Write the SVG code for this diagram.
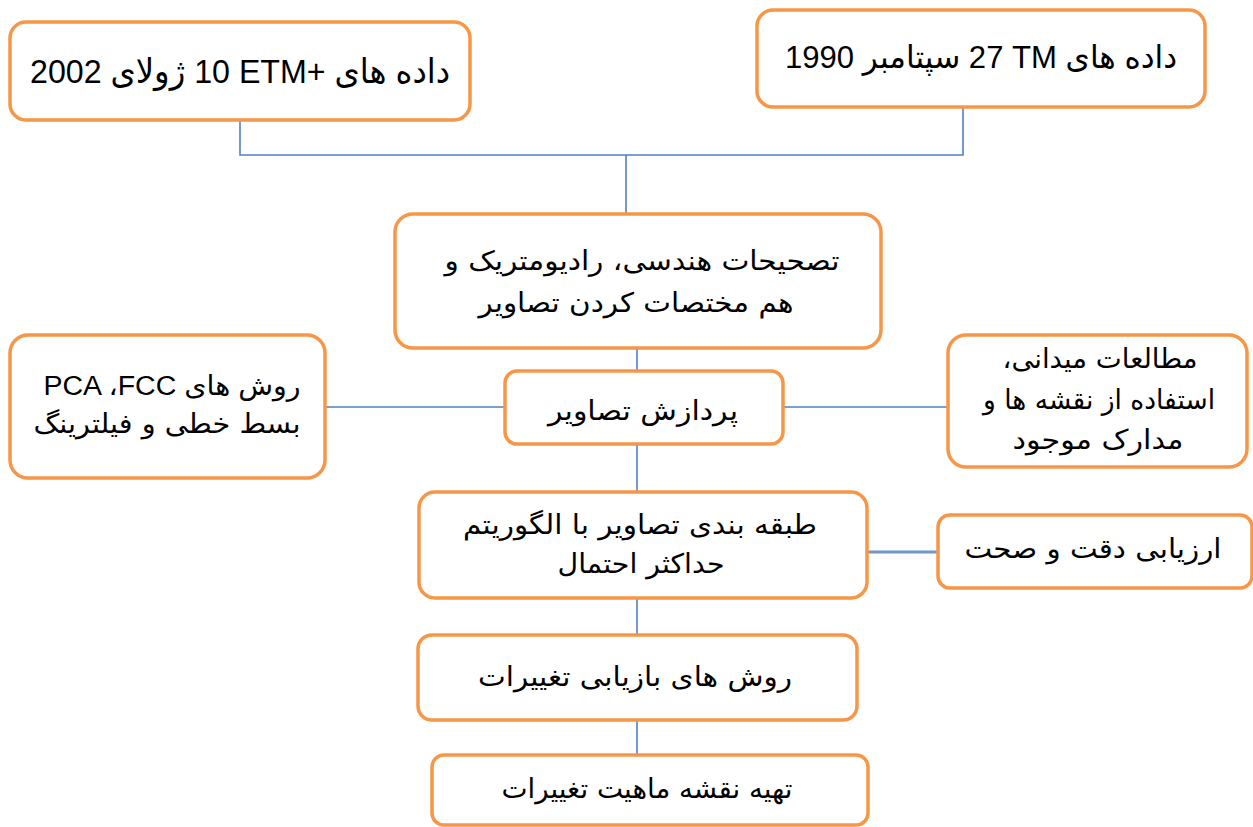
<svg xmlns="http://www.w3.org/2000/svg" width="1253" height="827" viewBox="0 0 1253 827">
<style>
.box{fill:#ffffff;stroke:#F79646;stroke-width:3.5}
.t{font-family:"Liberation Sans","DejaVu Sans",sans-serif;fill:#000;text-anchor:middle}
.fa{font-family:"DejaVu Sans","Liberation Sans",sans-serif;font-size:27px;fill:#000;text-anchor:middle}
.c{fill:none;stroke:#4F81BD;stroke-width:1.6}
</style>
<rect width="1253" height="827" fill="#ffffff"/>
<g id="connectors">
<path class="c" d="M240,120 V155 H963 V108 M626,155 V214"/>
<path class="c" d="M637,348 V371"/>
<path class="c" d="M325,407 H505 M783,407 H948"/>
<path class="c" d="M637,444 V492"/>
<path class="c" d="M867,552 H938" style="stroke:#7396CA;stroke-width:3"/>
<path class="c" d="M637,598 V635"/>
<path class="c" d="M637,720 V755"/>
</g>
<g id="n1">
<rect class="box" x="10" y="22" width="460" height="98" rx="16"/>
<text class="t" x="240" y="83" font-size="34" direction="ltr" textLength="420" lengthAdjust="spacingAndGlyphs">2002 ژولای&#x200E; 10 ETM+ داده های</text>
</g>
<g id="n2">
<rect class="box" x="757" y="10" width="448" height="97" rx="16"/>
<text class="t" x="981" y="68" font-size="32" direction="ltr" textLength="392" lengthAdjust="spacingAndGlyphs">1990 سپتامبر&#x200E; 27 TM داده های</text>
</g>
<g id="n3">
<rect class="box" x="395" y="214" width="486" height="134" rx="18"/>
<text class="fa" x="642" y="270" direction="rtl" textLength="395" lengthAdjust="spacingAndGlyphs">تصحیحات هندسی، رادیومتریک و</text>
<text class="fa" x="636" y="312" direction="rtl" textLength="315" lengthAdjust="spacingAndGlyphs">هم مختصات کردن تصاویر</text>
</g>
<g id="n4">
<rect class="box" x="505" y="371" width="278" height="73" rx="12"/>
<text class="fa" x="643" y="420" direction="rtl" textLength="190" lengthAdjust="spacingAndGlyphs">پردازش تصاویر</text>
</g>
<g id="n5">
<rect class="box" x="10" y="335" width="315" height="143" rx="18"/>
<text class="t" x="172" y="395" font-size="27" direction="ltr" textLength="257" lengthAdjust="spacingAndGlyphs">PCA ،FCC روش های</text>
<text class="fa" x="167" y="433" direction="rtl" textLength="267" lengthAdjust="spacingAndGlyphs">بسط خطی و فیلترینگ</text>
</g>
<g id="n6">
<rect class="box" x="948" y="335" width="299" height="132" rx="18"/>
<text class="fa" x="1100" y="368" direction="rtl" textLength="195" lengthAdjust="spacingAndGlyphs">مطالعات میدانی،</text>
<text class="fa" x="1099" y="409" direction="rtl" textLength="232" lengthAdjust="spacingAndGlyphs">استفاده از نقشه ها و</text>
<text class="fa" x="1098" y="449" direction="rtl" textLength="171" lengthAdjust="spacingAndGlyphs">مدارک موجود</text>
</g>
<g id="n7">
<rect class="box" x="419" y="492" width="448" height="106" rx="16"/>
<text class="fa" x="640" y="534" direction="rtl" textLength="354" lengthAdjust="spacingAndGlyphs">طبقه بندی تصاویر با الگوریتم</text>
<text class="fa" x="641" y="573" direction="rtl" textLength="167" lengthAdjust="spacingAndGlyphs">حداکثر احتمال</text>
</g>
<g id="n8">
<rect class="box" x="938" y="515" width="314" height="73" rx="12"/>
<text class="fa" x="1093" y="558" direction="rtl" textLength="257" lengthAdjust="spacingAndGlyphs">ارزیابی دقت و صحت</text>
</g>
<g id="n9">
<rect class="box" x="418" y="635" width="439" height="85" rx="14"/>
<text class="fa" x="635" y="686" direction="rtl" textLength="314" lengthAdjust="spacingAndGlyphs">روش های بازیابی تغییرات</text>
</g>
<g id="n10">
<rect class="box" x="432" y="755" width="436" height="70" rx="12"/>
<text class="fa" x="647" y="798" direction="rtl" textLength="291" lengthAdjust="spacingAndGlyphs">تهیه نقشه ماهیت تغییرات</text>
</g>
</svg>
